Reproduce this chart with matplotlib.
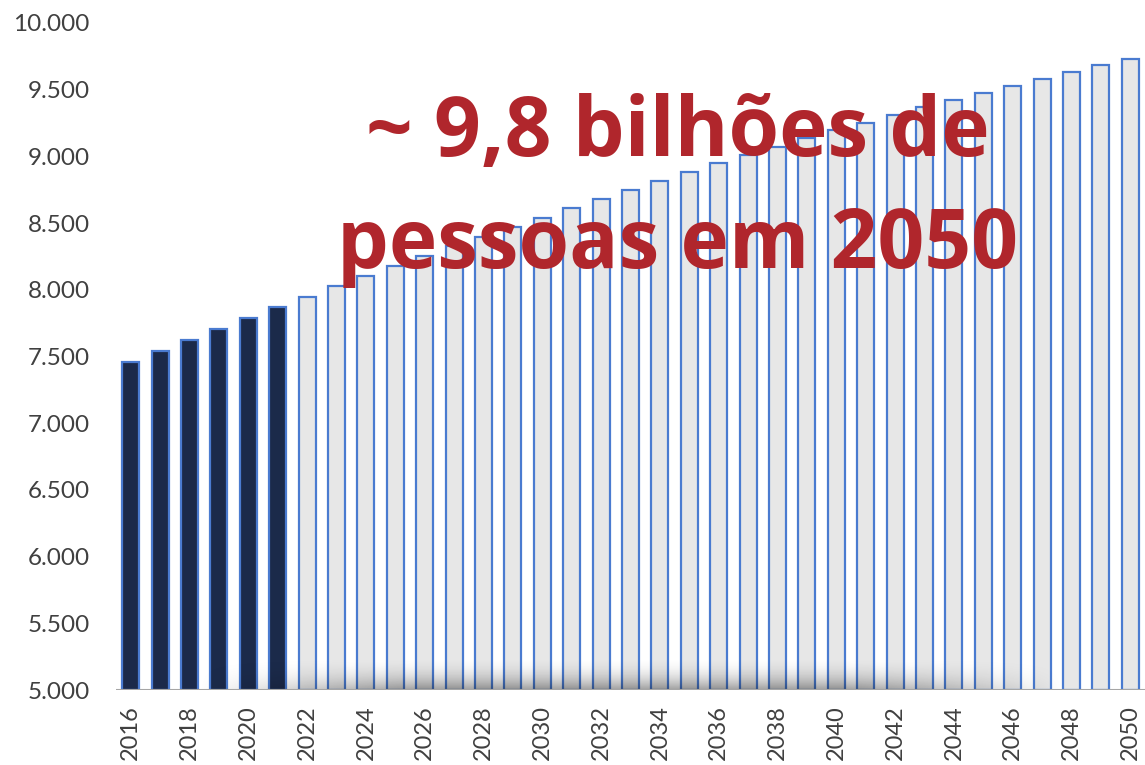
import numpy as np
import matplotlib

matplotlib.use("Agg")
import matplotlib.pyplot as plt

DARK = "#1b2a4a"
EDGE = "#4a7bd0"
LIGHT = "#e7e7e7"
RED = "#b0262c"
TICK = "#404040"

# world population (millions), observed and projected
years_obs = [2016, 2017, 2018, 2019, 2020, 2021]
pop_obs = [7459, 7541, 7624, 7706, 7789, 7871]
years_proj = list(range(2022, 2051))
pop_proj = [7948, 8026, 8101, 8178, 8251, 8328, 8396, 8471, 8540, 8613,
            8680, 8748, 8815, 8881, 8947, 9010, 9073, 9138, 9198, 9253,
            9310, 9368, 9422, 9477, 9530, 9580, 9632, 9683, 9728]
ytick_vals = [5000, 5500, 6000, 6500, 7000, 7500, 8000, 8500, 9000, 9500, 10000]
xtick_vals = list(range(2016, 2051, 2))
headline = "~ 9,8 bilhões de\npessoas em 2050"

fig = plt.figure(figsize=(11.45, 7.65), dpi=100)
ax = fig.add_axes([0.1013, 0.098, 0.8987, 0.872])

ax.bar(years_obs, [p - 5000 for p in pop_obs], bottom=5000, width=0.58,
       color=DARK, edgecolor=EDGE, linewidth=1.6, zorder=2)
ax.bar(years_proj, [p - 5000 for p in pop_proj], bottom=5000, width=0.58,
       color=LIGHT, edgecolor=EDGE, linewidth=1.6, zorder=2)

# soft shadow along the baseline (dark at the bottom, fading upward)
xs = np.linspace(0, 1, 400)
hprof = np.clip(np.sin(np.pi * np.clip((xs - 0.08) / 0.84, 0, 1)) * 1.4, 0, 1)
vprof = np.linspace(1, 0, 60) ** 2.2
alpha = (vprof[:, None] * hprof[None, :]) * 0.38
shade = np.zeros((60, 400, 4))
shade[..., 3] = alpha
ax.imshow(shade, extent=(2015.5, 2050.5, 5000, 5260), origin="lower",
          aspect="auto", zorder=3, interpolation="bilinear")
ax.axhline(5000, color="#a6a6a6", lw=1.5, zorder=4)

ax.set_xlim(2015.5, 2050.5)
ax.set_ylim(5000, 10000)
ax.set_yticks(ytick_vals)
ax.set_yticklabels([f"{v:,}".replace(",", ".") for v in ytick_vals],
                   fontsize=17.5, color=TICK, family="Lato")
ax.set_xticks(xtick_vals)
ax.set_xticklabels([str(y) for y in xtick_vals], rotation=90,
                   fontsize=17, color=TICK, family="Lato")
ax.tick_params(axis="y", length=0, pad=19)
ax.tick_params(axis="x", length=0, pad=11)
for s in ax.spines.values():
    s.set_visible(False)

ax.text(2034.6, 8745, headline, ha="center", va="center", fontsize=59,
        fontweight="bold", color=RED, family="Open Sans",
        linespacing=1.45, zorder=5)

fig.savefig("out.png", dpi=100)
